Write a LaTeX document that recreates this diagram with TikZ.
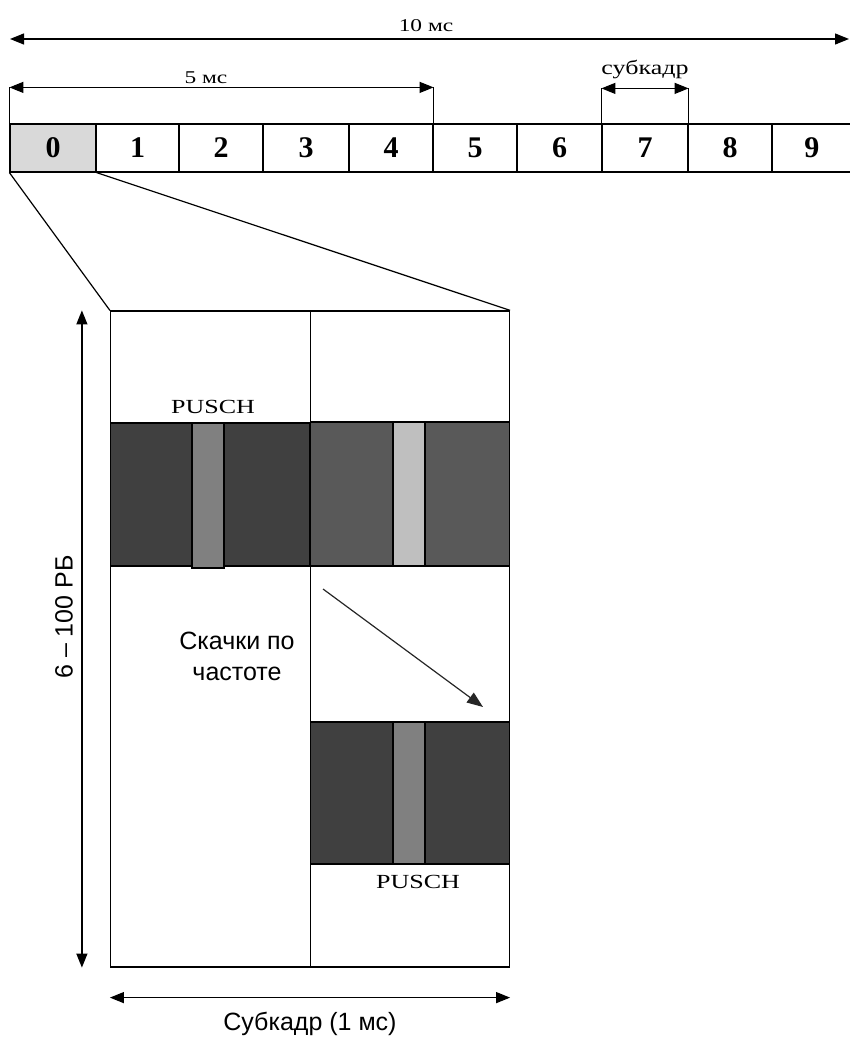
\documentclass[tikz,border=0pt]{standalone}
\usepackage{fontspec}
\setmainfont{Liberation Serif}
\setsansfont{Liberation Sans}
\newfontfamily\widefont[FakeStretch=1.3]{Liberation Serif}
\usetikzlibrary{arrows.meta}

\tikzset{
  cell/.style={draw, line width=1.2pt, minimum height=48pt, inner sep=0pt,
    font=\fontsize{30}{32}\selectfont\bfseries},
  dim/.style={line width=1.2pt,
    {Triangle[length=14pt,width=11pt]}-{Triangle[length=14pt,width=11pt]}},
  lbl/.style={inner sep=0pt, font=\widefont\fontsize{18}{20}\selectfont},
  sanslbl/.style={inner sep=0pt, align=center, font=\sffamily\fontsize{25}{31}\selectfont},
  blk/.style={draw, line width=1.2pt, inner sep=0pt},
}

\begin{document}
\begin{tikzpicture}[x=1pt, y=-1pt]
\useasboundingbox (0,0) rectangle (850,1040);

\node[cell, fill=black!15, minimum width=86pt] (c0) at (53,148) {0};
\node[cell, minimum width=83pt] (c1) at (137.5,148) {1};
\node[cell, minimum width=84pt] (c2) at (221,148) {2};
\node[cell, minimum width=86pt] (c3) at (306,148) {3};
\node[cell, minimum width=84pt] (c4) at (391,148) {4};
\node[cell, minimum width=84pt] (c5) at (475,148) {5};
\node[cell, minimum width=85pt] (c6) at (559.5,148) {6};
\node[cell, minimum width=86pt] (c7) at (645,148) {7};
\node[cell, minimum width=84pt] (c8) at (730,148) {8};
\node[cell, minimum width=79.5pt] (c9) at (811.75,148) {9};

% frame 10 ms
\coordinate (tenl) at (10,39);
\coordinate (tenr) at (849,39);
\draw[dim] (tenl) -- (tenr);
\node[lbl] (ten) at (426,26) {10 мс};

% half frame and subframe
\draw[line width=1.2pt] (c0.north west) -- ++(0,-36) coordinate (fivel);
\draw[line width=1.2pt] (c4.north east) -- ++(0,-36) coordinate (fiver);
\draw[dim] (fivel) -- (fiver);
\node[lbl] (five) at (206,78) {5 мс};
\draw[line width=1.2pt] (c7.north west) -- ++(0,-35) coordinate (subl);
\draw[line width=1.2pt] (c7.north east) -- ++(0,-35) coordinate (subr);
\draw[dim] (subl) -- (subr);
\node[lbl, font=\widefont\fontsize{20}{22}\selectfont] (sub) at (645,70) {субкадр};

% zoomed subframe
\node[blk, minimum width=399pt, minimum height=656pt] (grid) at (310,639) {};
\draw[line width=1.2pt] (c0.south west) -- (grid.north west);
\draw[line width=1.2pt] (c0.south east) -- (grid.north east);
\draw[line width=1pt] (grid.north) -- (grid.south);

\node[blk, fill=black!75, minimum width=199pt, minimum height=143pt] (pa) at (210,494.5) {};
\node[blk, fill=black!50, minimum width=32pt, minimum height=145pt] (sa) at (208,495.5) {};
\node[blk, fill=black!65, minimum width=199pt, minimum height=144pt] (pb) at (410,494) {};
\node[blk, fill=black!25, minimum width=32pt, minimum height=144pt] (sb) at (409,494) {};
\node[blk, fill=black!75, minimum width=199pt, minimum height=142pt] (pc) at (410,793) {};
\node[blk, fill=black!50, minimum width=32pt, minimum height=142pt] (sc) at (409,793) {};
\node[lbl, font=\widefont\fontsize{20}{22}\selectfont] (pua) at (213,407) {PUSCH};
\node[lbl, font=\widefont\fontsize{20}{22}\selectfont] (puc) at (418,882) {PUSCH};

\coordinate (hops) at (323,589);
\coordinate (hope) at (483,707);
\draw[line width=1.2pt, black!85, -{Triangle[length=16pt,width=12pt]}] (hops) -- (hope);
\node[sanslbl] (hop) at (237,656) {Скачки по\\частоте};

\draw[dim] ([xshift=-28pt]grid.north west) -- ([xshift=-28pt]grid.south west);
\node[sanslbl, rotate=90] (rb) at (64,617) {6 – 100 РБ};
\draw[dim] ([yshift=-30pt]grid.south west) -- ([yshift=-30pt]grid.south east);
\node[sanslbl] (sf) at (310,1024) {Субкадр (1 мс)};

\end{tikzpicture}
\end{document}
